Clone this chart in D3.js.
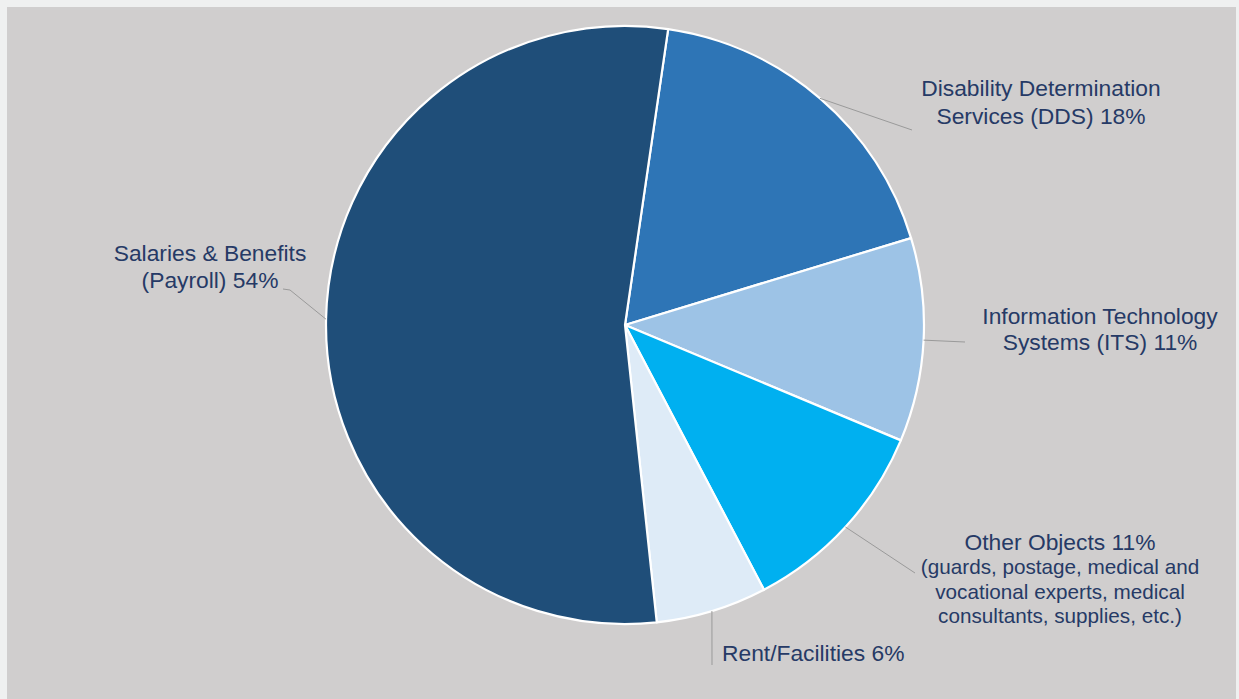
<!DOCTYPE html>
<html>
<head>
<meta charset="utf-8">
<script src="https://cdn.jsdelivr.net/npm/d3@7"></script>
<style>
  html, body { margin: 0; padding: 0; background: #eff0f0; }
  svg { display: block; }
  text { font-family: "Liberation Sans", Arial, sans-serif; font-size: 22.8px; fill: #263a66; }
  tspan.small { font-size: 20.7px; }
</style>
</head>
<body>
<svg id="chart" width="1239" height="699"></svg>
<script>
// slices, clockwise from just right of 12 o'clock
var categories = ["DDS", "ITS", "Other", "Rent", "Salaries"];
var values = [18, 11, 11, 6, 54];
var colors = ["#2e75b6", "#9dc3e6", "#00b0f0", "#deebf7", "#1f4e79"];
var labelLines = [
  ["Disability Determination", "Services (DDS) 18%"],
  ["Information Technology", "Systems (ITS) 11%"],
  ["Other Objects 11%", "(guards, postage, medical and", "vocational experts, medical", "consultants, supplies, etc.)"],
  ["Rent/Facilities 6%"],
  ["Salaries & Benefits", "(Payroll) 54%"]
];

// label layout (relative to pie centre)
var layout = {
  DDS:      { leader: [[287, -195]], tx: 416, ty: -229, anchor: "middle", lh: 28 },
  ITS:      { leader: [[340, 17]], tx: 475, ty: -1, anchor: "middle", lh: 26 },
  Other:    { leader: [[290, 248]], tx: 435, ty: 225, anchor: "middle", lh: 24.3, smallAfter: 0 },
  Rent:     { leader: [[87, 340]], tx: 97, ty: 336, anchor: "start", lh: 26 },
  Salaries: { leader: [[-335, -35], [-342, -36]], tx: -415, ty: -64, anchor: "middle", lh: 27 }
};

var svg = d3.select("#chart");
var width = +svg.attr("width"), height = +svg.attr("height");

// grey plot area
svg.append("rect")
  .attr("x", 7).attr("y", 7)
  .attr("width", width - 10).attr("height", height - 7)
  .attr("fill", "#d0cece");

var cx = 625, cy = 325, radius = 299;
var g = svg.append("g").attr("transform", "translate(" + cx + "," + cy + ")");

var offset = 8.3 * Math.PI / 180;
var pie = d3.pie().sort(null)
  .startAngle(offset).endAngle(offset + 2 * Math.PI)
  .value(function(d, i) { return values[i]; });
var arcs = pie(categories);

var arc = d3.arc().innerRadius(0).outerRadius(radius);
var edgeArc = d3.arc().innerRadius(radius).outerRadius(radius);

g.selectAll("path.slice")
  .data(arcs)
  .enter().append("path")
  .attr("class", "slice")
  .attr("d", arc)
  .attr("fill", function(d, i) { return colors[i]; })
  .attr("stroke", "#ffffff")
  .attr("stroke-width", 2.2)
  .attr("stroke-linejoin", "round");

// leader lines
g.selectAll("polyline.leader")
  .data(arcs)
  .enter().append("polyline")
  .attr("class", "leader")
  .attr("points", function(d) {
    var L = layout[d.data];
    var pts = [edgeArc.centroid(d)].concat(L.leader);
    return pts.map(function(p) { return p.join(","); }).join(" ");
  })
  .attr("fill", "none")
  .attr("stroke", "#9a9a9a")
  .attr("stroke-width", 1);

// labels
arcs.forEach(function(d, i) {
  var L = layout[d.data];
  var t = g.append("text")
    .attr("text-anchor", L.anchor)
    .attr("x", L.tx).attr("y", L.ty);
  labelLines[i].forEach(function(line, j) {
    t.append("tspan")
      .attr("class", L.smallAfter !== undefined && j > L.smallAfter ? "small" : null)
      .attr("x", L.tx)
      .attr("y", L.ty + j * L.lh)
      .text(line);
  });
});
</script>
</body>
</html>
